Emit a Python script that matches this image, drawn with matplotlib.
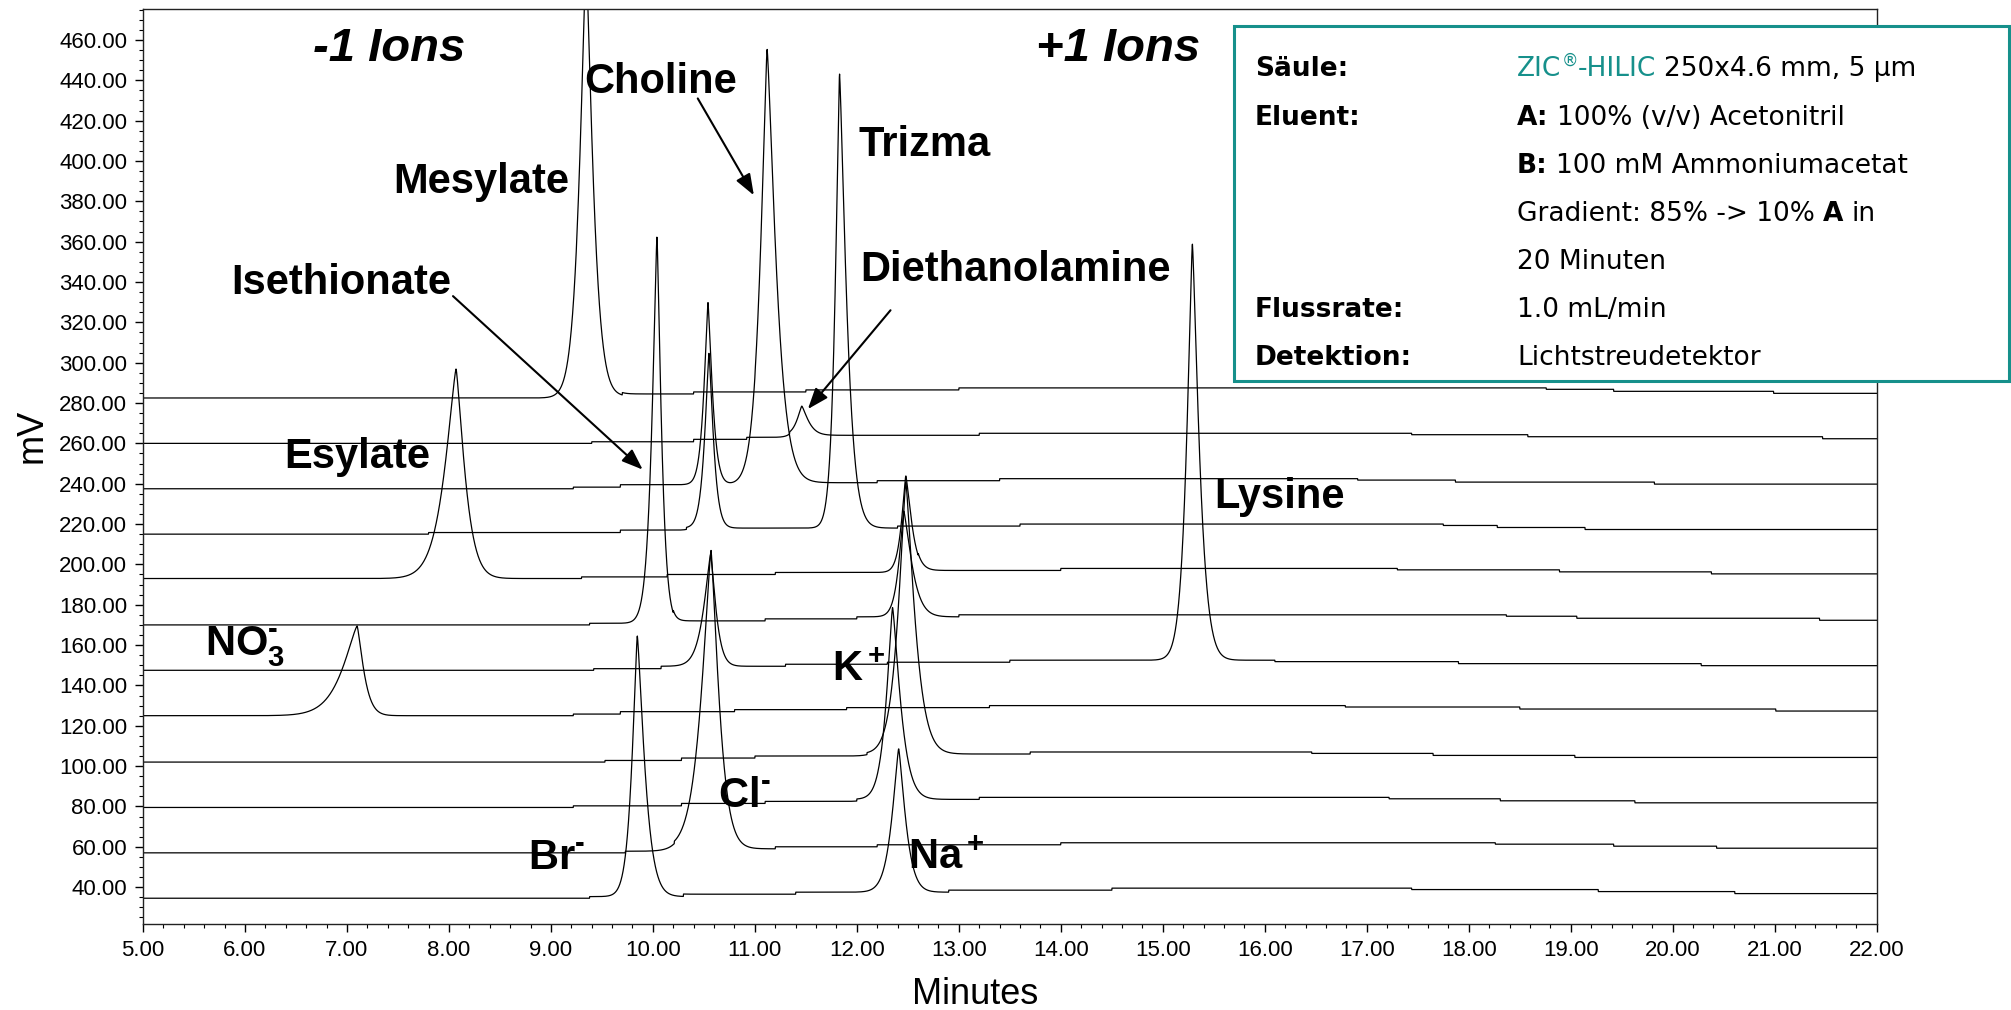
import matplotlib
matplotlib.use("Agg")
import matplotlib.pyplot as plt
import numpy as np
from matplotlib.patches import Rectangle
from matplotlib.ticker import FormatStrFormatter, MultipleLocator

plt.rcParams["font.family"] = ["Liberation Sans", "DejaVu Sans"]
plt.rcParams["mathtext.fontset"] = "custom"
plt.rcParams["mathtext.rm"] = "Liberation Sans:bold"
plt.rcParams["mathtext.it"] = "Liberation Sans:bold"
plt.rcParams["mathtext.bf"] = "Liberation Sans:bold"

TEAL = "#16908b"

# stacked traces, top to bottom: level at 5 min (mV)
trace_start = [282.5, 260.0, 237.5, 215.0, 193.0, 170.0,
               147.5, 125.0, 102.0, 79.5, 57.0, 34.5]

# baseline drift: step times per trace (min) and the level change after each step (mV)
step_times = [
    [9.25, 9.70, 10.40, 11.50, 13.00, 18.76, 19.42, 20.99],
    [9.40, 10.40, 10.92, 11.34, 13.20, 17.44, 18.58, 21.47],
    [9.22, 9.68, 11.00, 12.20, 13.40, 16.91, 17.87, 19.82],
    [7.80, 9.68, 10.33, 12.40, 13.60, 17.75, 18.28, 19.14],
    [9.30, 10.14, 11.20, 12.60, 14.00, 17.30, 18.89, 20.38],
    [9.38, 10.20, 11.10, 12.00, 13.00, 18.37, 19.06, 21.44],
    [9.42, 10.08, 11.30, 12.30, 13.50, 16.10, 17.90, 20.28],
    [9.22, 9.68, 10.80, 11.90, 13.30, 16.79, 18.50, 21.01],
    [9.53, 10.28, 11.00, 12.10, 13.70, 16.46, 17.65, 19.04],
    [9.22, 10.28, 11.10, 12.00, 13.20, 17.22, 18.31, 19.63],
    [9.73, 10.21, 11.20, 12.20, 14.00, 18.26, 19.42, 20.43],
    [9.38, 10.30, 11.40, 12.90, 14.50, 17.44, 19.27, 20.61],
]
step_mv = [0.8, 2.0, 3.0, 4.0, 5.0, 4.3, 3.3, 2.3]

# peaks: trace index, retention time (min), apex (mV), half widths left / right (min)
peak_trace = [0, 1, 2, 2, 3, 3, 4, 4, 5, 5, 6, 6, 7, 8, 9, 10, 11, 11]
peak_time = [9.345, 11.46, 10.54, 11.12, 10.55, 11.83, 8.07, 12.48, 10.04,
             12.46, 10.566, 15.29, 7.10, 12.48, 12.35, 10.57, 9.847, 12.41]
peak_top = [500.0, 278.5, 330.0, 455.6, 305.0, 443.4, 297.0, 244.0, 363.0,
            226.5, 205.0, 359.0, 169.5, 241.0, 178.8, 207.0, 164.7, 108.7]
peak_hwl = [0.068, 0.05, 0.042, 0.07, 0.045, 0.045, 0.118, 0.045, 0.052,
            0.05, 0.072, 0.06, 0.153, 0.08, 0.065, 0.10, 0.055, 0.07]
peak_hwr = [0.07, 0.065, 0.045, 0.09, 0.045, 0.07, 0.088, 0.06, 0.045,
            0.08, 0.054, 0.07, 0.066, 0.09, 0.08, 0.08, 0.074, 0.07]

# labels (text, minutes, mV)
label_text = ["Mesylate", "Choline", "Trizma", "Isethionate", "Diethanolamine",
              "Esylate", "Lysine", r"NO$_3^{\text{-}}$", "K$^+$", r"Cl$^{\text{-}}$",
              r"Br$^{\text{-}}$", "Na$^+$"]
label_x = [8.32, 10.08, 12.66, 6.94, 13.56, 7.10, 16.14, 6.0, 12.02, 10.9, 9.06, 12.88]
label_y = [389.6, 439.0, 408.0, 339.4, 345.8, 253.1, 233.5, 159.2, 147.8, 85.0, 54.5, 54.5]

group_text = ["-1 Ions", "+1 Ions"]
group_x = [7.41, 14.56]
group_y = [455.6, 455.6]

# arrows: start -> tip (minutes, mV)
arrow_from = [(10.44, 431.0), (8.04, 333.0), (12.33, 326.0)]
arrow_to = [(10.99, 383.0), (9.90, 247.0), (11.52, 277.0)]

# method box
info_keys = ["Säule:", "Eluent:", "", "", "", "Flussrate:", "Detektion:"]
info_vals = [
    [("ZIC", "teal", False), ("®", "sup", False), ("-HILIC", "teal", False),
     ("250x4.6 mm, 5 µm", "norm", True)],
    [("A:", "bold", False), ("100% (v/v) Acetonitril", "norm", True)],
    [("B:", "bold", False), ("100 mM Ammoniumacetat", "norm", True)],
    [("Gradient: 85% -> 10%", "norm", False), ("A", "bold", True), ("in", "norm", True)],
    [("20 Minuten", "norm", False)],
    [("1.0 mL/min", "norm", False)],
    [("Lichtstreudetektor", "norm", False)],
]


def baseline(t, start, times):
    levels = np.concatenate([[0.0], step_mv])
    idx = np.searchsorted(times, t, side="right")
    return start + levels[idx]


def peak_shape(t, t0, hwl, hwr, p=1.3):
    dt = t - t0
    hw = np.where(dt < 0, hwl, hwr)
    return np.exp(-np.log(2) * np.abs(dt / hw) ** p)


fig = plt.figure(figsize=(20.11, 10.10), dpi=100)
ax = fig.add_axes([0.0711, 0.0847, 0.8621, 0.9061])

t = np.linspace(5.0, 22.0, 8000)
for i, start in enumerate(trace_start):
    y = baseline(t, start, step_times[i])
    for k, tr in enumerate(peak_trace):
        if tr != i:
            continue
        t0 = peak_time[k]
        h = peak_top[k] - baseline(np.array([t0]), start, step_times[i])[0]
        y = y + h * peak_shape(t, t0, peak_hwl[k], peak_hwr[k])
    ax.plot(t, y, color="black", lw=0.9)

ax.set_xlim(5.0, 22.0)
ax.set_ylim(21.5, 475.2)
ax.xaxis.set_major_locator(MultipleLocator(1.0))
ax.xaxis.set_minor_locator(MultipleLocator(0.2))
ax.yaxis.set_minor_locator(MultipleLocator(5.0))
ax.set_yticks(np.arange(40, 461, 20))
ax.xaxis.set_major_formatter(FormatStrFormatter("%.2f"))
ax.yaxis.set_major_formatter(FormatStrFormatter("%.2f"))
ax.tick_params(which="major", direction="out", length=5.5, width=1, labelsize=16)
ax.tick_params(which="minor", direction="out", length=3, width=0.8)
ax.tick_params(axis="y", pad=6)
ax.tick_params(axis="x", pad=6)
for sp in ax.spines.values():
    sp.set_linewidth(1.0)
    sp.set_color("#222222")

for s, x, y in zip(label_text, label_x, label_y):
    ax.text(x, y, s, fontsize=30, fontweight="bold", ha="center", va="center")
for s, x, y in zip(group_text, group_x, group_y):
    ax.text(x, y, s, fontsize=34, fontweight="bold", style="italic",
            ha="center", va="center")
for a, b in zip(arrow_from, arrow_to):
    ax.annotate("", xy=b, xytext=a,
                arrowprops=dict(arrowstyle="-|>,head_length=0.8,head_width=0.3",
                                mutation_scale=16, color="black", lw=1.5,
                                shrinkA=0, shrinkB=0))

fig.text(975 / 2011, 1 - 995 / 1010, "Minutes", fontsize=26, ha="center", va="center")
fig.text(32 / 2011, 1 - 436 / 1010, "mV", fontsize=26, rotation=90,
         ha="center", va="center")

# method box on top of the plot
fig.add_artist(Rectangle((1234 / 2011, 1 - 381 / 1010), 775 / 2011, 355 / 1010,
                         transform=fig.transFigure, facecolor="white",
                         edgecolor=TEAL, lw=2.2, zorder=10))

renderer = fig.canvas.get_renderer()
W = fig.bbox.width
box_font = ["DejaVu Sans"]
box_size = 19
probe1 = fig.text(0, 0, "a a", fontsize=box_size, family=box_font)
probe2 = fig.text(0, 0, "aa", fontsize=box_size, family=box_font)
space = (probe1.get_window_extent(renderer).width
         - probe2.get_window_extent(renderer).width) / W
probe1.remove()
probe2.remove()

row_base = [76, 125, 173, 221, 269, 317, 365]
for key, parts, yb in zip(info_keys, info_vals, row_base):
    yf = 1 - yb / 1010
    if key:
        fig.text(1255 / 2011, yf, key, fontsize=box_size, family=box_font,
                 fontweight="bold", va="baseline", zorder=11)
    x = 1517 / 2011
    for s, style, gap in parts:
        if gap:
            x += space
        kw = dict(fontsize=box_size, family=box_font, va="baseline", ha="left", zorder=11)
        yy = yf
        if style == "bold":
            kw["fontweight"] = "bold"
        elif style == "teal":
            kw["color"] = TEAL
        elif style == "sup":
            kw.update(color=TEAL, fontsize=12)
            yy = yf + 0.010
        txt = fig.text(x, yy, s, **kw)
        x = txt.get_window_extent(renderer).x1 / W

fig.savefig("out.png", dpi=100)
